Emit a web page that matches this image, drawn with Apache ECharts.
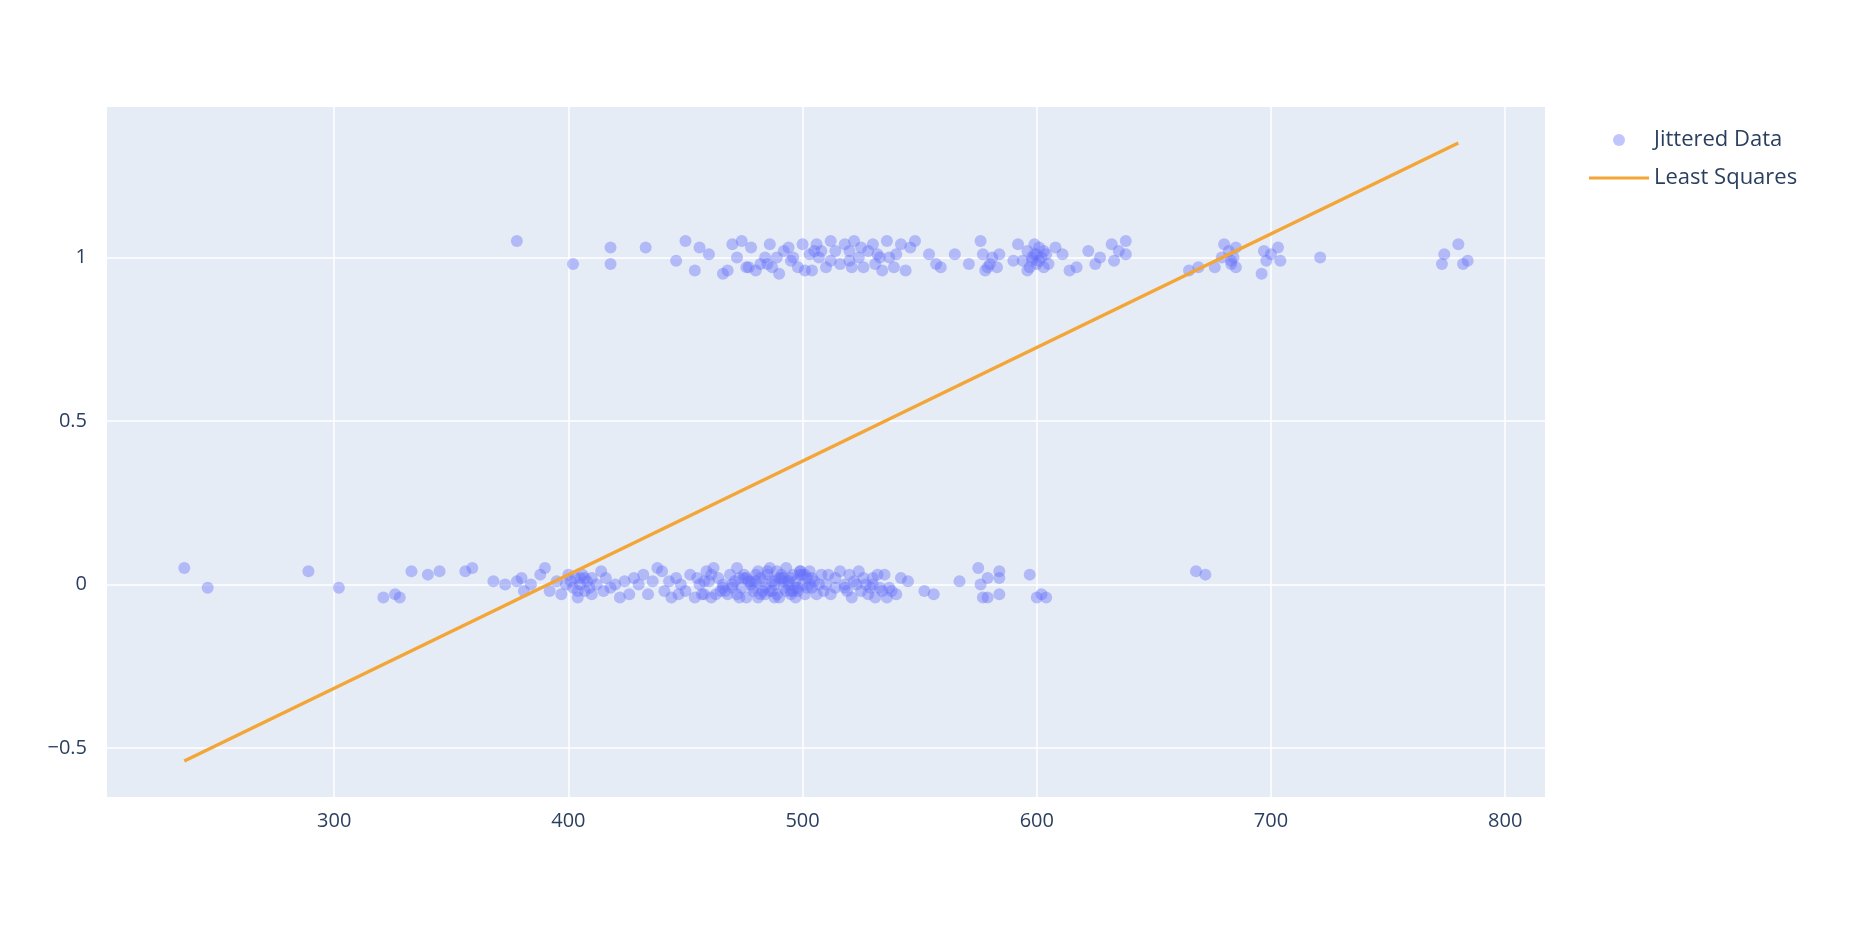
<!DOCTYPE html>
<html><head><meta charset="utf-8">
<script src="https://cdn.jsdelivr.net/npm/echarts@6/dist/echarts.min.js"></script>
<style>html,body{margin:0;background:#fff}#c{width:1866px;height:940px}</style></head>
<body><div id="c"></div>
<script>
const upperX=[378,402,418,418,433,446,450,454,456,460,466,468,470,472,474,476,478,480,482,484,486,487,489,490,492,494,496,498,500,501,503,504,506,507,508,510,512,514,516,518,520,521,522,524,526,528,530,531,532,534,536,537,539,540,542,544,546,548,554,557,559,565,571,576,577,578,580,581,583,584,590,592,594,596,597,598,599,600,601,602,603,604,605,608,611,614,617,622,625,627,632,633,635,638,638,665,669,676,679,680,682,683,684,685,685,696,697,698,700,703,704,721,773,774,780,782,784,477,495,520,533,579,596,599,601,603,683,485,505,512,525,598,600];
const upperY=[1.05,0.98,1.03,0.98,1.03,0.99,1.05,0.96,1.03,1.01,0.95,0.96,1.04,1.00,1.05,0.97,1.03,0.96,0.98,1.00,1.04,0.97,1.00,0.95,1.02,1.03,1.00,0.97,1.04,0.96,1.01,0.96,1.04,1.00,1.02,0.97,1.05,1.02,0.98,1.04,0.99,0.97,1.05,1.00,0.97,1.02,1.04,0.98,1.01,0.96,1.05,1.00,0.97,1.01,1.04,0.96,1.03,1.05,1.01,0.98,0.97,1.01,0.98,1.05,1.01,0.96,0.98,1.00,0.97,1.01,0.99,1.04,0.99,1.02,0.97,1.00,1.04,0.98,1.03,1.00,0.97,1.01,0.98,1.03,1.01,0.96,0.97,1.02,0.98,1.00,1.04,0.99,1.02,1.05,1.01,0.96,0.97,0.97,1.00,1.04,1.02,0.98,1.00,1.03,0.97,0.95,1.02,0.99,1.01,1.03,0.99,1.00,0.98,1.01,1.04,0.98,0.99,0.97,0.99,1.02,1.00,0.97,0.96,1.01,0.99,1.02,0.99,0.98,1.02,0.99,1.03,0.99,1.01];
const lowerX=[236,246,289,302,321,326,328,333,340,345,356,359,368,373,378,380,381,384,388,390,392,395,397,399,400,402,403,404,405,406,407,408,410,412,414,416,418,420,422,424,426,428,430,432,434,436,438,440,441,444,446,448,450,452,454,456,458,459,460,461,462,464,465,466,468,469,470,472,473,474,475,476,477,478,479,480,481,482,483,484,485,486,487,488,489,490,491,492,493,494,495,496,497,498,499,500,501,502,503,504,505,506,508,510,512,514,516,518,519,520,521,522,524,525,527,528,530,531,533,535,536,538,540,542,545,552,556,567,575,576,577,579,579,584,584,584,597,600,602,604,668,672,405,463,478,486,490,494,497,500,483,488,492,496,503,470,475,480,498,530,458,518,
401,404,407,409,455,457,461,467,471,473,476,479,482,484,487,489,491,493,495,497,499,502,504,507,509,511,514,523,526,529,532,534,537,481,485,488,492,495,499,501,472,466,410,415,443,447];
const lowerY=[0.05,-0.01,0.04,-0.01,-0.04,-0.03,-0.04,0.04,0.03,0.04,0.04,0.05,0.01,0.00,0.01,0.02,-0.02,0.00,0.03,0.05,-0.02,0.01,-0.03,0.00,0.03,-0.01,0.02,-0.04,0.00,0.03,-0.02,0.01,-0.03,0.00,0.04,0.02,-0.01,0.00,-0.04,0.01,-0.03,0.02,0.00,0.03,-0.03,0.01,0.05,0.04,-0.02,-0.04,0.02,0.00,-0.02,0.03,-0.04,0.00,-0.03,0.04,0.01,-0.04,0.05,0.02,-0.02,0.00,-0.03,0.03,0.00,-0.03,0.02,-0.01,0.03,-0.04,0.01,0.00,-0.02,0.03,0.04,-0.03,0.01,-0.01,0.03,0.05,-0.02,0.00,0.04,-0.04,0.02,-0.01,0.05,0.00,-0.03,0.03,0.01,-0.02,0.04,0.00,-0.03,0.02,0.04,-0.01,0.01,-0.03,0.03,0.00,-0.03,0.02,0.04,0.00,-0.02,0.03,-0.04,0.01,0.04,-0.02,0.00,-0.03,0.02,-0.04,-0.01,0.03,-0.04,-0.02,-0.03,0.02,0.01,-0.02,-0.03,0.01,0.05,0.00,-0.04,-0.04,0.02,0.04,-0.03,0.02,0.03,-0.04,-0.03,-0.04,0.04,0.03,0.02,-0.03,0.01,-0.02,0.02,0.01,-0.01,0.03,-0.02,0.01,0.02,-0.02,0.00,-0.01,0.02,0.01,-0.01,0.00,0.01,-0.01,
0.01,-0.02,0.02,-0.01,0.02,-0.03,0.03,-0.02,0.01,-0.04,0.02,-0.01,0.02,-0.03,0.01,-0.03,0.03,-0.02,0.02,-0.04,0.03,-0.01,0.02,0.00,-0.02,0.03,-0.01,0.00,0.02,-0.01,0.03,-0.02,-0.01,-0.04,0.04,-0.04,0.01,-0.02,0.04,0.03,0.05,-0.01,0.02,-0.02,0.01,-0.03];
const lineX=[236,780];
const lineY=[-0.54,1.35];
const xTicks=[300,400,500,600,700,800];
const yTicks=[-0.5,0,0.5,1];

const up=upperX.map((x,i)=>[x,upperY[i]]);
const lo=lowerX.map((x,i)=>[x,lowerY[i]]);
const pts=up.concat(lo);
const ln=lineX.map((x,i)=>[x,lineY[i]]);
const font='"Open Sans", sans-serif';
const chart=echarts.init(document.getElementById('c'));
chart.setOption({
  animation:false,
  grid:{left:107,right:321,top:107,bottom:143},
  legend:{left:1584,top:124,orient:'vertical',itemGap:16,itemWidth:60,itemHeight:12,
    textStyle:{fontFamily:font,fontSize:22,color:'#2a3f5f'},
    data:[{name:'Jittered Data',icon:'path://M24,0A6,6 0 1,1 24.01,0Z'},{name:'Least Squares',icon:'path://M0,5L60,5L60,8L0,8Z'}]},
  xAxis:{type:'value',min:203,max:817,
    axisLine:{show:false},axisTick:{show:false,customValues:xTicks},
    axisLabel:{customValues:xTicks,fontFamily:font,fontSize:20,color:'#2a3f5f',margin:14},
    splitLine:{lineStyle:{color:'#fff',width:1.5}}},
  yAxis:{type:'value',min:-0.65,max:1.46,
    axisLine:{show:false},axisTick:{show:false,customValues:yTicks},
    axisLabel:{customValues:yTicks,fontFamily:font,fontSize:20,color:'#2a3f5f',margin:20,
      formatter:v=>String(v).replace('-','\u2212')},
    splitLine:{lineStyle:{color:'#fff',width:1.5}}},
  series:[
    {name:'Jittered Data',type:'scatter',data:pts,symbolSize:12,
     itemStyle:{color:'rgba(99,110,250,0.5)'}},
    {name:'Least Squares',type:'line',data:ln,symbol:'none',
     lineStyle:{color:'#f3a536',width:3.5},itemStyle:{color:'#f3a536'}}
  ]
});
chart.setOption({graphic:[{type:'rect',z:-10,silent:true,shape:{x:107,y:107,width:1866-107-321,height:940-107-143},style:{fill:'#e5ecf6'}}]});
</script></body></html>
